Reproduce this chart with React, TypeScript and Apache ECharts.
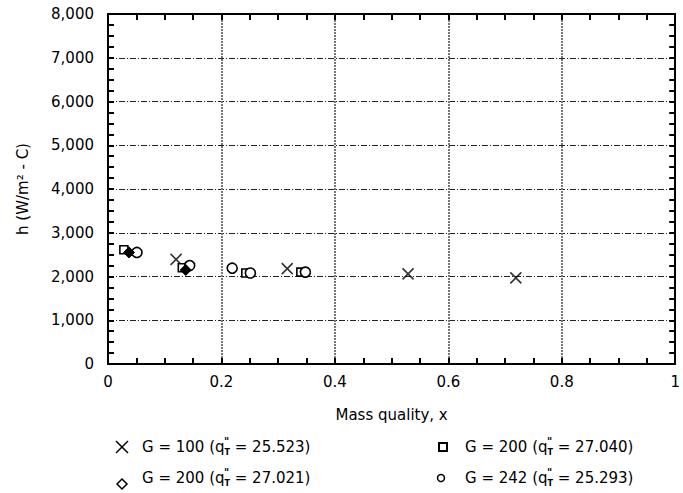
import React, { useEffect, useRef } from "react";
import * as echarts from "echarts";

const FONT = '"DejaVu Sans", Verdana, sans-serif';

const xTicks = { min: 0, max: 1, interval: 0.2 };
const yTicks = { min: 0, max: 8000, interval: 1000 };

// G = 100 (q"T = 25.523) : crosses
const g100: [number, number][] = [
  [0.12, 2390],
  [0.316, 2180],
  [0.529, 2060],
  [0.719, 1970],
];
// G = 200 (q"T = 27.040) : open squares
const g200a: [number, number][] = [
  [0.028, 2610],
  [0.131, 2200],
  [0.243, 2080],
  [0.34, 2100],
];
// G = 200 (q"T = 27.021) : filled diamonds
const g200b: [number, number][] = [
  [0.037, 2550],
  [0.137, 2150],
];
// G = 242 (q"T = 25.293) : open circles
const g242: [number, number][] = [
  [0.051, 2550],
  [0.144, 2250],
  [0.219, 2190],
  [0.251, 2080],
  [0.348, 2100],
];

const legendItems = [
  { pre: "G = 100 (q", post: " = 25.523)", marker: "cross" },
  { pre: "G = 200 (q", post: " = 27.040)", marker: "square" },
  { pre: "G = 200 (q", post: " = 27.021)", marker: "diamond" },
  { pre: "G = 242 (q", post: " = 25.293)", marker: "circle" },
];

function measure(text: string, size: number): number {
  const c = document.createElement("canvas");
  const ctx = c.getContext("2d");
  if (!ctx) return text.length * size * 0.6;
  ctx.font = `${size}px ${FONT}`;
  return ctx.measureText(text).width;
}

function buildLegend(): any[] {
  const pos = [
    { mx: 122, tx: 142, y: 447 },
    { mx: 443, tx: 465, y: 447 },
    { mx: 122, tx: 142, y: 478 },
    { mx: 441, tx: 465, y: 478 },
  ];
  const els: any[] = [];
  legendItems.forEach((it, i) => {
    const p = pos[i];
    const w1 = measure(it.pre, 15);
    const wT = measure("T", 9);
    els.push({
      type: "text",
      x: p.tx,
      y: p.y,
      style: { text: it.pre, font: `15px ${FONT}`, fill: "#000", textVerticalAlign: "middle", verticalAlign: "middle" },
    });
    els.push({
      type: "text",
      x: p.tx + w1 - 0.5,
      y: p.y - 6,
      style: { text: '"', font: `bold 10px ${FONT}`, fill: "#000", verticalAlign: "middle" },
    });
    els.push({
      type: "text",
      x: p.tx + w1,
      y: p.y + 5,
      style: { text: "T", font: `bold 8px ${FONT}`, fill: "#000", verticalAlign: "middle" },
    });
    els.push({
      type: "text",
      x: p.tx + w1 + wT,
      y: p.y,
      style: { text: it.post, font: `15px ${FONT}`, fill: "#000", verticalAlign: "middle" },
    });
    const s = { stroke: "#000", lineWidth: 1.5, fill: "none" };
    if (it.marker === "cross") {
      els.push({ type: "line", shape: { x1: p.mx - 6, y1: p.y - 6, x2: p.mx + 6, y2: p.y + 6 }, style: s });
      els.push({ type: "line", shape: { x1: p.mx + 6, y1: p.y - 6, x2: p.mx - 6, y2: p.y + 6 }, style: s });
    } else if (it.marker === "square") {
      els.push({ type: "rect", shape: { x: p.mx - 4, y: p.y - 4, width: 8, height: 8 }, style: { ...s, lineWidth: 2 } });
    } else if (it.marker === "diamond") {
      const cy = p.y + 6;
      els.push({
        type: "polygon",
        shape: { points: [[p.mx, cy - 5], [p.mx + 5, cy], [p.mx, cy + 5], [p.mx - 5, cy]] },
        style: s,
      });
    } else {
      els.push({ type: "circle", shape: { cx: p.mx, cy: p.y, r: 3.5 }, style: s });
    }
  });
  return els;
}

export default function App() {
  const ref = useRef<HTMLDivElement>(null);
  useEffect(() => {
    if (!ref.current) return;
    const chart = echarts.init(ref.current, undefined, { renderer: "svg" });
    const frameLine = { show: true, onZero: false, lineStyle: { color: "#000", width: 2 } };
    const xTick = { show: true, inside: true, length: 6, lineStyle: { color: "#000", width: 2 } };
    const xMinor = { show: true, splitNumber: 4, length: 6, lineStyle: { color: "#000", width: 2 } };
    chart.setOption({
      animation: false,
      backgroundColor: "#fff",
      grid: { left: 108, right: 2, top: 14, bottom: 129, containLabel: false },
      xAxis: [
        {
          type: "value",
          ...xTicks,
          position: "bottom",
          name: "Mass quality, x",
          nameLocation: "middle",
          nameGap: 43,
          nameTextStyle: { fontFamily: FONT, fontSize: 15, color: "#000" },
          axisLine: frameLine,
          axisTick: xTick,
          minorTick: xMinor,
          axisLabel: { fontFamily: FONT, fontSize: 15, color: "#000", margin: 10 },
          splitLine: { show: true, lineStyle: { color: "#777", width: 2, type: [2, 1] } },
        },
        {
          type: "value",
          ...xTicks,
          position: "top",
          axisLine: frameLine,
          axisTick: xTick,
          minorTick: xMinor,
          axisLabel: { show: false },
          splitLine: { show: false },
        },
      ],
      yAxis: [
        {
          type: "value",
          ...yTicks,
          position: "left",
          name: "h (W/m² - C)",
          nameLocation: "middle",
          nameGap: 78,
          nameTextStyle: { fontFamily: FONT, fontSize: 15, color: "#000" },
          axisLine: frameLine,
          axisTick: xTick,
          minorTick: xMinor,
          axisLabel: { fontFamily: FONT, fontSize: 15, color: "#000", margin: 14 },
          splitLine: { show: true, lineStyle: { color: "#222", width: 1, type: [6, 2, 1, 2] } },
        },
        {
          type: "value",
          ...yTicks,
          position: "right",
          axisLine: frameLine,
          axisTick: xTick,
          minorTick: xMinor,
          axisLabel: { show: false },
          splitLine: { show: false },
        },
      ],
      series: [
        {
          name: "G = 100",
          type: "scatter",
          data: g100,
          symbol: "path://M0,0L10,10M10,0L0,10",
          symbolSize: 11,
          itemStyle: { color: "none", borderColor: "#000", borderWidth: 1.6 },
          z: 2,
        },
        {
          name: "G = 200 a",
          type: "scatter",
          data: g200a,
          symbol: "rect",
          symbolSize: 8,
          itemStyle: { color: "#fff", borderColor: "#000", borderWidth: 1.6, opacity: 1 },
          z: 3,
        },
        {
          name: "G = 242",
          type: "scatter",
          data: g242,
          symbol: "circle",
          symbolSize: 10,
          itemStyle: { color: "#fff", borderColor: "#000", borderWidth: 1.6, opacity: 1 },
          z: 4,
        },
        {
          name: "G = 200 b",
          type: "scatter",
          data: g200b,
          symbol: "diamond",
          symbolSize: 11,
          itemStyle: { color: "#000", borderColor: "#000", borderWidth: 1, opacity: 1 },
          z: 5,
        },
      ],
      graphic: buildLegend(),
    });
    return () => chart.dispose();
  }, []);
  return <div ref={ref} style={{ width: 683, height: 493, position: "absolute", left: 0, top: 0 }} />;
}
